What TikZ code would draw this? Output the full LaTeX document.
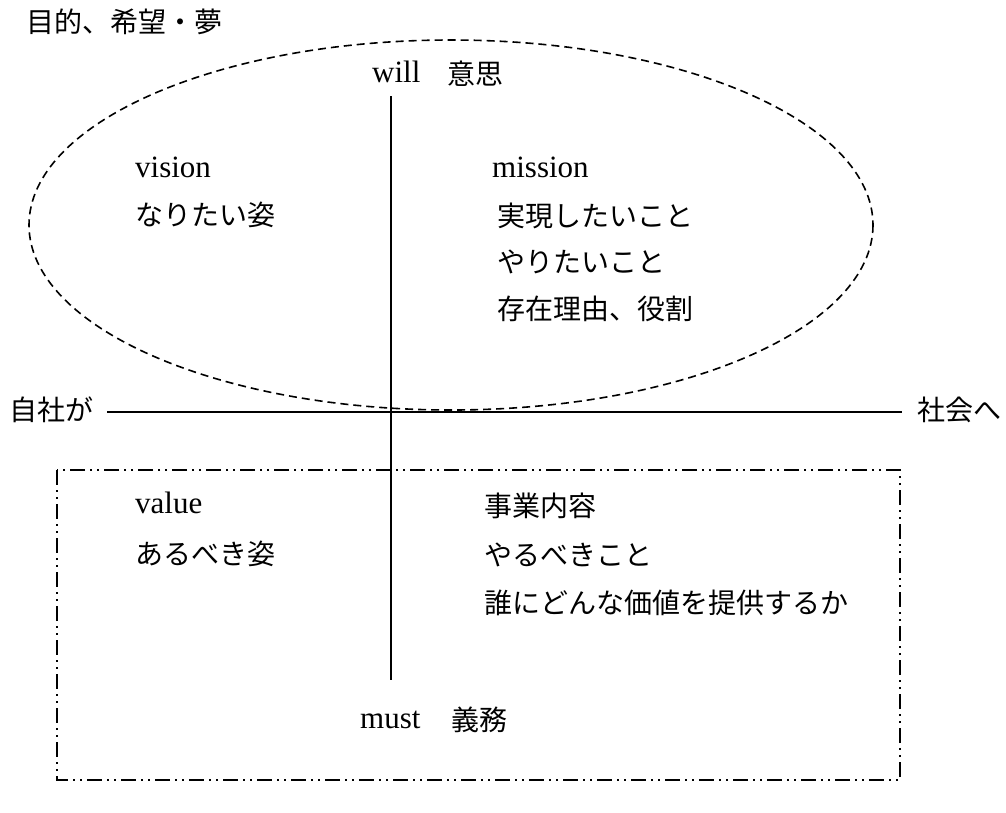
\documentclass[tikz,border=0pt]{standalone}
\usepackage{fontspec}
\setmainfont{Liberation Serif}
\newfontfamily\jp{Noto Sans CJK JP}
\begin{document}
\begin{tikzpicture}[x=1pt,y=-1pt,
  lat/.style={font=\fontsize{31}{35}\selectfont, inner sep=0pt, anchor=base west},
  jpn/.style={font=\fontsize{28}{32}\selectfont\jp, inner sep=0pt, anchor=west},
  axis/.style={line width=1.8pt},
  dreamzone/.style={line width=1.6pt, dash pattern=on 8pt off 5pt},
  mustzone/.style={line width=2pt, dash pattern=on 15pt off 5pt on 2pt off 5pt on 2pt off 5pt}]
\useasboundingbox (0,0) rectangle (1006,812);
% zones
\draw[dreamzone] (451,225) ellipse [x radius=422, y radius=185];
\draw[mustzone] (57,470) rectangle (900,780);
% axes
\coordinate (vtop) at (391,96);
\coordinate (vbot) at (391,680);
\coordinate (hl) at (107,412);
\coordinate (hr) at (902,412);
\draw[axis] (vtop) -- (vbot);
\draw[axis] (hl) -- (hr);
% labels
\node[jpn] (dream) at (26,22) {目的、希望・夢};
\node[lat] (will) at (372,82) {will};
\node[jpn] (ishi) at (447,74) {意思};
\node[lat] (vision) at (135,177) {vision};
\node[jpn] (naritai) at (135,215) {なりたい姿};
\node[lat] (mission) at (492,177) {mission};
\node[jpn] (jitsugen) at (497,216) {実現したいこと};
\node[jpn] (yaritai) at (497,262) {やりたいこと};
\node[jpn] (sonzai) at (497,309) {存在理由、役割};
\node[jpn] (jisha) at (9,410) {自社が};
\node[jpn] (shakai) at (917,410) {社会へ};
\node[lat] (value) at (135,513) {value};
\node[jpn] (arubeki) at (135,554) {あるべき姿};
\node[jpn] (jigyo) at (484,506) {事業内容};
\node[jpn] (yarubeki) at (484,555) {やるべきこと};
\node[jpn] (dare) at (484,603) {誰にどんな価値を提供するか};
\node[lat] (must) at (360,728) {must};
\node[jpn] (gimu) at (451,720) {義務};
\end{tikzpicture}
\end{document}
